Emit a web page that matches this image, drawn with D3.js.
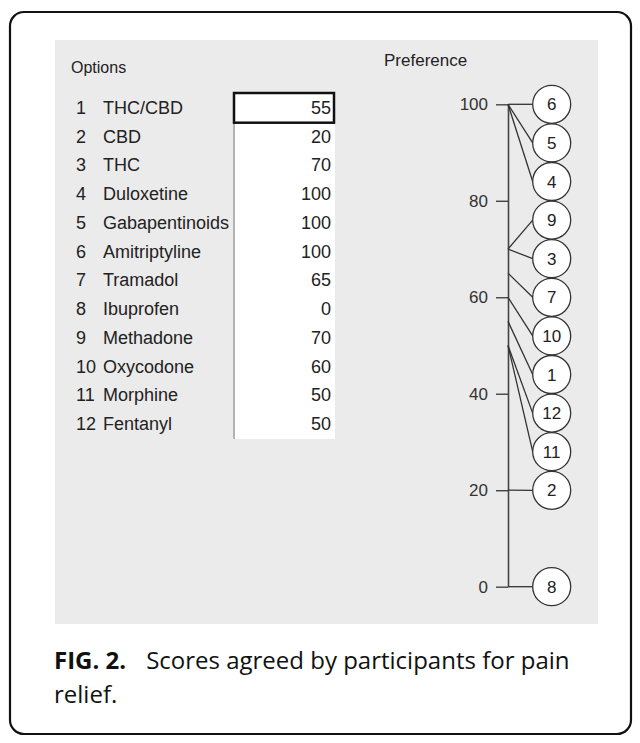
<!DOCTYPE html>
<html>
<head>
<meta charset="utf-8">
<script src="https://cdn.jsdelivr.net/npm/d3@7"></script>
<style>
  body { margin: 0; background: #fff; }
  svg { display: block; }
</style>
</head>
<body>
<svg id="chart" width="640" height="743"></svg>
<script>
// data
var options = ["THC/CBD", "CBD", "THC", "Duloxetine", "Gabapentinoids", "Amitriptyline",
               "Tramadol", "Ibuprofen", "Methadone", "Oxycodone", "Morphine", "Fentanyl"];
var scores = [55, 20, 70, 100, 100, 100, 65, 0, 70, 60, 50, 50];
var tickVals = [0, 20, 40, 60, 80, 100];

var svg = d3.select("#chart");
var font = "'Liberation Sans', Arial, sans-serif";
var capFont = "'Open Sans', 'Noto Sans', sans-serif";

// frame + grey panel
svg.append("rect")
   .attr("x", 10).attr("y", 12).attr("width", 621).attr("height", 722)
   .attr("rx", 14).attr("fill", "#fff").attr("stroke", "#111").attr("stroke-width", 2.2);
svg.append("rect")
   .attr("x", 55).attr("y", 40).attr("width", 543).attr("height", 584)
   .attr("fill", "#ebebeb");

// left table -------------------------------------------------
var rowY = d3.scalePoint().domain(d3.range(options.length)).range([114, 430]);
var rowH = 28.7;

svg.append("text").text("Options")
   .attr("x", 71).attr("y", 73)
   .style("font-family", font).style("font-size", "16px").attr("fill", "#222");

// white value column
svg.append("rect")
   .attr("x", 233).attr("y", rowY(0) - 21)
   .attr("width", 102).attr("height", rowY(11) - rowY(0) + 30)
   .attr("fill", "#fff");
svg.append("line")
   .attr("x1", 234).attr("x2", 234)
   .attr("y1", rowY(0) - 21).attr("y2", rowY(11) + 9)
   .attr("stroke", "#9a9a9a").attr("stroke-width", 1.5);
// focused first cell
svg.append("rect")
   .attr("x", 234).attr("y", rowY(0) - 21)
   .attr("width", 100).attr("height", rowH + 1)
   .attr("fill", "none").attr("stroke", "#111").attr("stroke-width", 2.5);

var rows = svg.selectAll("g.row")
   .data(options)
   .enter()
   .append("g")
   .attr("class", "row")
   .attr("transform", function(d, i) { return "translate(0," + rowY(i) + ")"; })
   .style("font-family", font).style("font-size", "18px").attr("fill", "#222");

rows.append("text")
   .attr("x", 76)
   .text(function(d, i) { return i + 1; });
rows.append("text")
   .attr("x", 103)
   .text(function(d) { return d; });
rows.append("text")
   .attr("x", 331).attr("text-anchor", "end")
   .text(function(d, i) { return scores[i]; });

// preference axis ---------------------------------------------
var axisX = 508;
var y = d3.scaleLinear().domain([0, 100]).range([586.7, 104.3]);

svg.append("text").text("Preference")
   .attr("x", 384).attr("y", 66)
   .style("font-family", font).style("font-size", "17px").attr("fill", "#222");

var axisG = svg.append("g")
   .attr("transform", "translate(" + axisX + ",0)")
   .call(d3.axisLeft(y).tickValues(tickVals).tickSize(12).tickSizeOuter(0).tickPadding(8));
axisG.select(".domain").attr("stroke", "#444").attr("stroke-width", 1.6);
axisG.selectAll(".tick line").attr("stroke", "#444").attr("stroke-width", 1.4);
axisG.selectAll(".tick text")
   .style("font-family", font).style("font-size", "17px").attr("fill", "#333");

// place circles: sorted by score, packed without overlap, kept in axis range
var r = 19, gap = 38.6;
var items = scores.map(function(s, i) { return { id: i + 1, score: s, t: y(s) }; });
items.sort(function(a, b) { return d3.descending(a.score, b.score) || d3.descending(a.id, b.id); });

var clusters = [];
items.forEach(function(it) {
    clusters.push({ items: [it], top: it.t });
    while (clusters.length > 1) {
        var last = clusters[clusters.length - 1];
        var prev = clusters[clusters.length - 2];
        if (prev.top + prev.items.length * gap <= last.top) break;
        var merged = prev.items.concat(last.items);
        var n = merged.length;
        var top = d3.mean(merged, function(m) { return m.t; }) - (n - 1) * gap / 2;
        top = Math.max(y(100), Math.min(top, y(0) - (n - 1) * gap));
        clusters.splice(clusters.length - 2, 2, { items: merged, top: top });
    }
});
clusters.forEach(function(c) {
    c.items.forEach(function(it, k) { it.cy = c.top + k * gap; });
});

var cx = 551.7;

svg.selectAll("line.link")
   .data(items)
   .enter()
   .append("line")
   .attr("class", "link")
   .attr("x1", axisX).attr("y1", function(d) { return d.t; })
   .attr("x2", cx - r).attr("y2", function(d) { return d.cy; })
   .attr("stroke", "#333").attr("stroke-width", 1.3);

var nodes = svg.selectAll("g.node")
   .data(items)
   .enter()
   .append("g")
   .attr("class", "node")
   .attr("transform", function(d) { return "translate(" + cx + "," + d.cy + ")"; });
nodes.append("circle")
   .attr("r", r).attr("fill", "#fff").attr("stroke", "#333").attr("stroke-width", 1.3);
nodes.append("text")
   .attr("text-anchor", "middle").attr("dy", "0.36em")
   .style("font-family", font).style("font-size", "17px").attr("fill", "#222")
   .text(function(d) { return d.id; });

// caption
var cap = svg.append("text")
   .attr("x", 54).attr("y", 669)
   .style("font-family", capFont).style("font-size", "24px")
   .attr("fill", "#111");
cap.append("tspan").attr("font-weight", "bold").text("FIG. 2.");
cap.append("tspan").attr("dx", 20).text("Scores agreed by participants for pain");
svg.append("text")
   .attr("x", 54).attr("y", 703)
   .style("font-family", capFont).style("font-size", "24px")
   .attr("fill", "#111")
   .text("relief.");
</script>
</body>
</html>
